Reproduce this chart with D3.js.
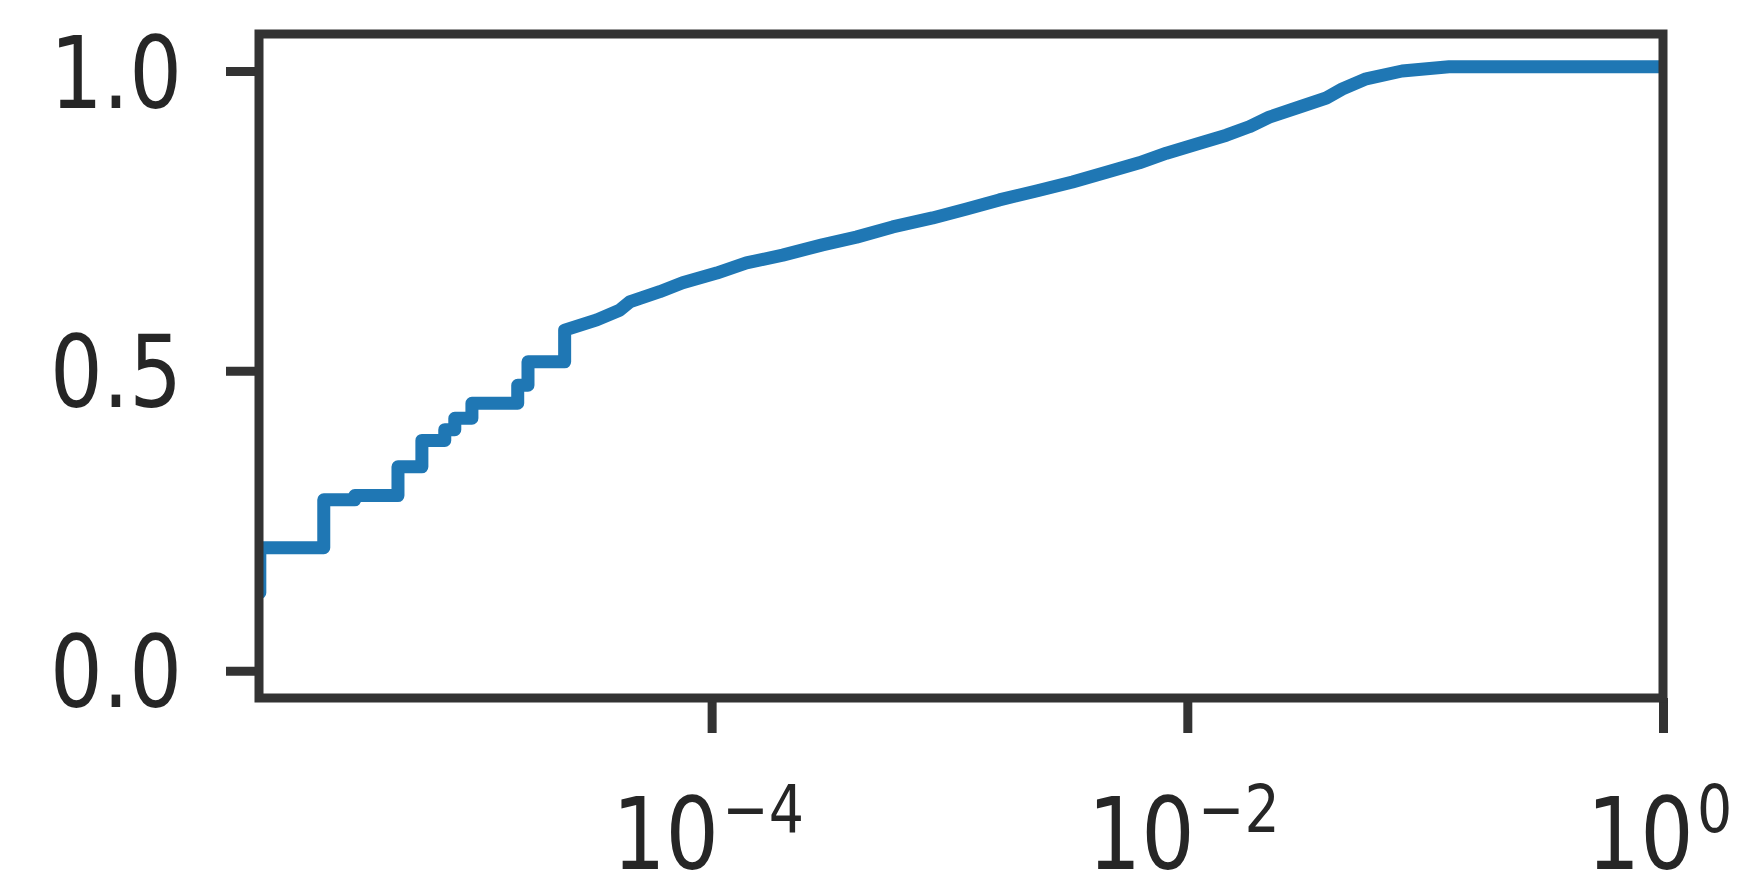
<!DOCTYPE html>
<html>
<head>
<meta charset="utf-8">
<script src="https://cdn.jsdelivr.net/npm/d3@7"></script>
<style>
  body { margin: 0; background: #fff; }
  svg { display: block; }
  .tick-label { font-family: "DejaVu Sans", sans-serif; fill: #262626; }
</style>
</head>
<body>
<script>
// size of the page / picture
var svgWidth = 1759;
var svgHeight = 887;

// the low end of the curve has real visible jumps - drawn as steps
var stepXs = [1.0e-6, 1.26e-6, 2.34e-6, 3.16e-6, 4.80e-6, 6.05e-6, 7.55e-6, 8.32e-6, 9.82e-6,
              1.53e-5, 1.69e-5, 2.41e-5];
var stepYs = [0.13, 0.205, 0.285, 0.292, 0.340, 0.384, 0.402, 0.421, 0.446,
              0.476, 0.515, 0.568];

// the rest is dense enough that it reads as a smooth line
var smoothXs = [2.41e-5, 3.29e-5, 4.10e-5, 4.52e-5, 6.05e-5, 7.55e-5,
                1.05e-4, 1.40e-4, 1.99e-4, 2.92e-4, 4.06e-4, 5.77e-4, 8.49e-4,
                1.18e-3, 1.62e-3, 2.32e-3, 3.29e-3, 4.57e-3, 6.28e-3, 8.17e-3,
                1.09e-2, 1.46e-2, 1.82e-2, 2.21e-2, 2.96e-2, 3.84e-2, 4.48e-2, 5.65e-2, 8.00e-2,
                1.26e-1, 1.0];
var smoothYs = [0.568, 0.585, 0.601, 0.615, 0.632, 0.647,
                0.663, 0.680, 0.693, 0.710, 0.723, 0.740, 0.755,
                0.770, 0.785, 0.800, 0.815, 0.831, 0.847, 0.863,
                0.878, 0.893, 0.907, 0.923, 0.940, 0.955, 0.970, 0.987, 1.0,
                1.007, 1.007];

// axis stuff
var xDomain = [1.25e-6, 1];
var yDomain = [-0.0455, 1.0617];
var xTicks = [1e-4, 1e-2, 1];
var xTickExp = ["\u22124", "\u22122", "0"];
var yTicks = [0.0, 0.5, 1.0];
var yTickLabels = ["0.0", "0.5", "1.0"];

// careful - "top" is taken by window.top, so the box edges get their own names
var boxLeft = 259, boxRight = 1663, boxTop = 34, boxBottom = 698;

var svg = d3.select("body")
            .append("svg")
            .attr("width", svgWidth)
            .attr("height", svgHeight);

var x = d3.scaleLog().domain(xDomain).range([boxLeft, boxRight]);
var y = d3.scaleLinear().domain(yDomain).range([boxBottom, boxTop]);

// clip the line to the axes box like matplotlib does
svg.append("clipPath")
   .attr("id", "plotClip")
   .append("rect")
   .attr("x", boxLeft)
   .attr("y", boxTop)
   .attr("width", boxRight - boxLeft)
   .attr("height", boxBottom - boxTop);

function pairUp(xs, ys) {
  return xs.map(function(d, i) { return [d, ys[i]]; });
}

var stepLine = d3.line()
                 .x(function(d) { return x(d[0]); })
                 .y(function(d) { return y(d[1]); })
                 .curve(d3.curveStepAfter);
var smoothLine = d3.line()
                   .x(function(d) { return x(d[0]); })
                   .y(function(d) { return y(d[1]); });

var lineG = svg.append("g").attr("clip-path", "url(#plotClip)");
lineG.append("path")
     .attr("d", stepLine(pairUp(stepXs, stepYs)) + smoothLine(pairUp(smoothXs, smoothYs)).replace(/^M/, "L"))
     .attr("fill", "none")
     .attr("stroke", "#1f77b4")
     .attr("stroke-width", 13)
     .attr("stroke-linejoin", "round");

// x axis ticks, labels are 10^n with a superscript
var xAxis = d3.axisBottom(x)
              .tickValues(xTicks)
              .tickSize(35)
              .tickFormat("");
var gx = svg.append("g")
            .attr("transform", "translate(0," + boxBottom + ")")
            .call(xAxis);
gx.select(".domain").remove();
gx.selectAll(".tick line").attr("stroke", "#333").attr("stroke-width", 9);

gx.selectAll(".tick").each(function(d, i) {
  var t = d3.select(this).append("text")
            .attr("class", "tick-label")
            .attr("fill", "#262626")
            .attr("text-anchor", "middle")
            .attr("transform", "translate(-4,171) scale(0.84,1)")
            .style("font-size", "100px");
  t.append("tspan").text("10");
  t.append("tspan")
   .attr("dx", "4")
   .attr("dy", "-0.56em")
   .style("font-size", "66px")
   .text(xTickExp[i]);
});

// y axis
var yAxis = d3.axisLeft(y)
              .tickValues(yTicks)
              .tickSize(33)
              .tickFormat("");
var gy = svg.append("g")
            .attr("transform", "translate(" + boxLeft + ",0)")
            .call(yAxis);
gy.select(".domain").remove();
gy.selectAll(".tick line").attr("stroke", "#333").attr("stroke-width", 9);
gy.selectAll(".tick").append("text")
  .attr("class", "tick-label")
  .attr("fill", "#262626")
  .attr("text-anchor", "end")
  .attr("transform", "translate(-77,36) scale(0.83,1)")
  .style("font-size", "100px")
  .text(function(d, i) { return yTickLabels[i]; });

// box around the axes, drawn last so it sits over the line
svg.append("rect")
   .attr("x", boxLeft)
   .attr("y", boxTop)
   .attr("width", boxRight - boxLeft)
   .attr("height", boxBottom - boxTop)
   .attr("fill", "none")
   .attr("stroke", "#333")
   .attr("stroke-width", 9);
</script>
</body>
</html>
